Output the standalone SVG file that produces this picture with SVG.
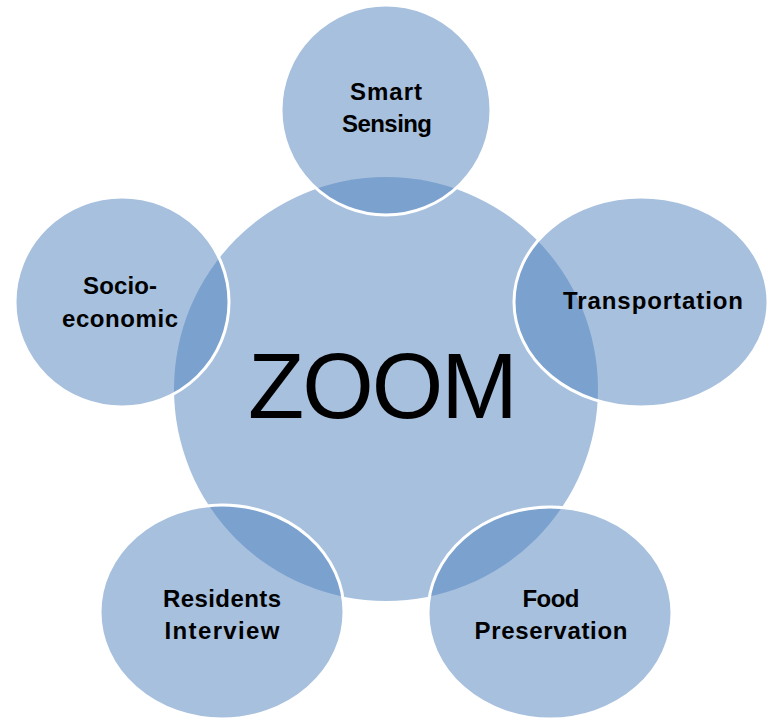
<svg xmlns="http://www.w3.org/2000/svg" width="769" height="721" viewBox="0 0 769 721">
  <style>
    .bubble { fill: #4F81BD; fill-opacity: 0.5; stroke: #FFFFFF; stroke-width: 3; }
    .hub { fill: #4F81BD; fill-opacity: 0.5; stroke: none; }
    .label { font-family: "Liberation Sans", Arial, sans-serif; font-weight: bold; font-size: 24px; fill: #000000; text-anchor: middle; }
    .title { font-family: "Liberation Sans", Arial, sans-serif; font-size: 92px; fill: #000000; text-anchor: middle; }
  </style>
  <rect width="769" height="721" fill="#FFFFFF"/>

  <!-- central hub -->
  <g id="zoom">
    <circle class="hub" cx="386" cy="389" r="212"/>
    <text class="title" x="383" y="418" textLength="270">ZOOM</text>
  </g>

  <!-- no connectors: the bubbles overlap the hub directly -->
  <g id="connectors"/>

  <g id="smart-sensing">
    <circle class="bubble" cx="386" cy="110" r="105"/>
    <text class="label" x="386" y="100" textLength="72">Smart</text>
    <text class="label" x="387" y="132" textLength="90">Sensing</text>
  </g>

  <g id="transportation">
    <ellipse class="bubble" cx="641" cy="302" rx="127" ry="105"/>
    <text class="label" x="653" y="309" textLength="180">Transportation</text>
  </g>

  <g id="socio-economic">
    <ellipse class="bubble" cx="122" cy="302" rx="107" ry="105"/>
    <text class="label" x="120" y="294" textLength="74">Socio-</text>
    <text class="label" x="120" y="327" textLength="116">economic</text>
  </g>

  <g id="residents-interview">
    <ellipse class="bubble" cx="222" cy="612" rx="122" ry="107"/>
    <text class="label" x="222" y="607" textLength="118">Residents</text>
    <text class="label" x="222" y="639" textLength="115">Interview</text>
  </g>

  <g id="food-preservation">
    <ellipse class="bubble" cx="550" cy="613" rx="122" ry="106"/>
    <text class="label" x="551" y="607" textLength="57">Food</text>
    <text class="label" x="551" y="639" textLength="153">Preservation</text>
  </g>
</svg>
